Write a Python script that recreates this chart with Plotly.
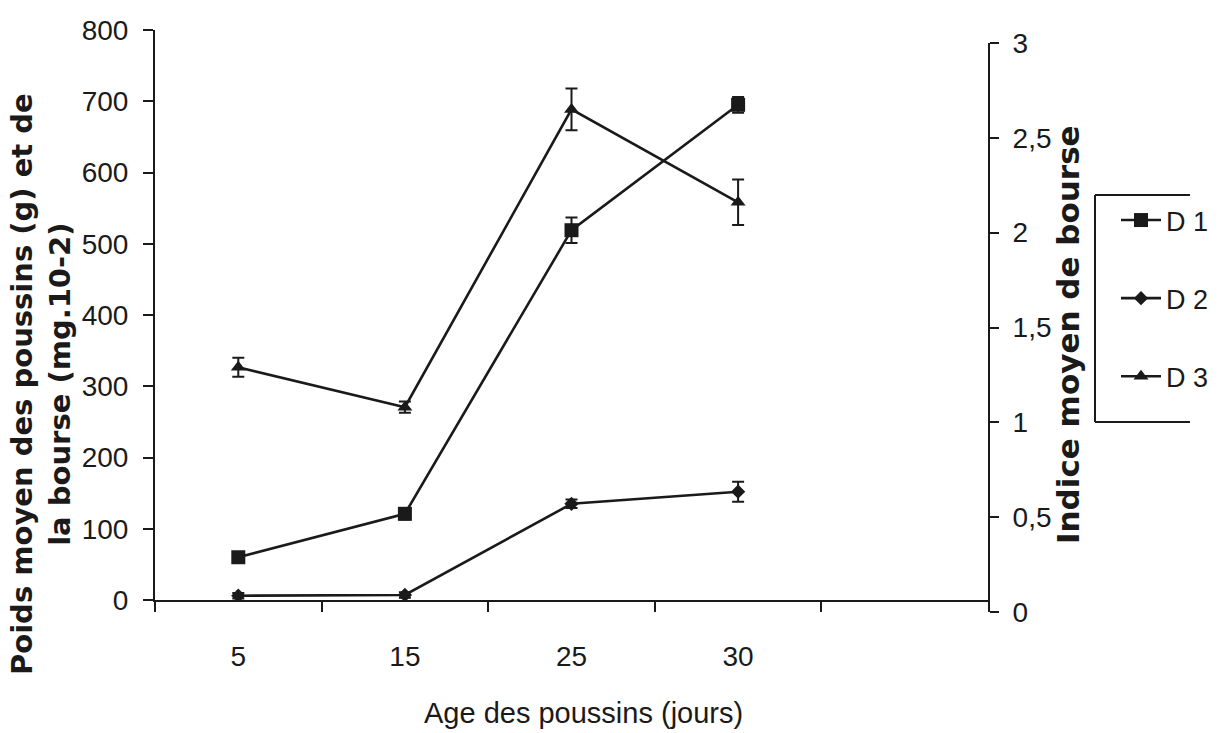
import plotly.graph_objects as go

# ---- data ----
ages = ["5", "15", "25", "30"]
d1_values = [60, 121, 519, 695]      # left axis
d1_errors = [6, 8, 18, 11]
d2_values = [6, 7, 135, 152]         # left axis
d2_errors = [4, 4, 6, 14]
d3_values = [1.29, 1.08, 2.65, 2.16] # right axis (index)
d3_errors = [0.05, 0.03, 0.11, 0.12]

left_ticks = [0, 100, 200, 300, 400, 500, 600, 700, 800]
right_ticks = [0, 0.5, 1, 1.5, 2, 2.5, 3]
x_boundaries = [0.5, 1.5, 2.5, 3.5]

NARROW = "Liberation Sans Narrow, Arial Narrow, Liberation Sans, Arial, sans-serif"
BOLD = "DejaVu Sans, Liberation Sans, Arial, sans-serif"
INK = "#1a1a1a"

fig = go.Figure()

def err(vals):
    return dict(type="data", array=vals, visible=True, color=INK, thickness=2, width=6)

fig.add_trace(go.Scatter(
    x=ages, y=d1_values, name="D 1", mode="lines+markers",
    line=dict(color=INK, width=2.6),
    marker=dict(symbol="square", size=14, color=INK),
    error_y=err(d1_errors), xaxis="x", yaxis="y", legendgroup="g1"))
fig.add_trace(go.Scatter(
    x=ages, y=d2_values, name="D 2", mode="lines+markers",
    line=dict(color=INK, width=2.6),
    marker=dict(symbol="diamond", size=11, color=INK),
    error_y=err(d2_errors), xaxis="x", yaxis="y", legendgroup="g2"))
fig.add_trace(go.Scatter(
    x=ages, y=d3_values, name="D 3", mode="lines+markers",
    line=dict(color=INK, width=2.6),
    marker=dict(symbol="triangle-up", size=13, color=INK),
    error_y=err(d3_errors), xaxis="x", yaxis="y2", legendgroup="g3"))

W, H = 1227, 733
L, R, T, B = 155, 239, 30, 121
pw = W - L - R
ph = H - T - B

def px(xp):
    return (xp - L) / pw

def py(yp):
    return (H - B - yp) / ph

tickfont = dict(family=NARROW, size=28, color=INK)

fig.update_layout(
    width=W, height=H,
    margin=dict(l=L, r=R, t=T, b=B),
    paper_bgcolor="white", plot_bgcolor="rgba(0,0,0,0)",
    separators=", ",
    showlegend=True,
    legend=dict(
        x=px(1116), y=py(196), xanchor="left", yanchor="top",
        font=dict(family=NARROW, size=27, color=INK),
        tracegroupgap=40, borderwidth=0, bgcolor="rgba(0,0,0,0)",
        itemwidth=40,
    ),
    xaxis=dict(
        type="category", categoryarray=ages, range=[-0.5, 4.5],
        domain=[0, 1], anchor="y",
        showline=True, linecolor=INK, linewidth=2,
        ticks="outside", tickson="boundaries", ticklen=10, tickwidth=2, tickcolor=INK,
        tickfont=tickfont, ticklabelstandoff=30,
        showgrid=False, zeroline=False,
    ),
    # inner half of the crossing x ticks
    xaxis2=dict(
        overlaying="x", anchor="y", range=[-0.5, 4.5], tickvals=x_boundaries,
        ticks="inside", ticklen=9, tickwidth=2, tickcolor=INK,
        showticklabels=False, showline=False, showgrid=False, zeroline=False,
    ),
    yaxis=dict(
        range=[0, 800], tickvals=left_ticks, domain=[py(600), py(30)],
        anchor="x", side="left",
        showline=True, linecolor=INK, linewidth=2,
        ticks="outside", ticklen=10, tickwidth=2, tickcolor=INK,
        tickfont=tickfont, ticklabelstandoff=9,
        showgrid=False, zeroline=False,
    ),
    yaxis3=dict(
        overlaying="y", anchor="x", side="left", range=[0, 800], tickvals=left_ticks,
        ticks="inside", ticklen=8, tickwidth=2, tickcolor=INK,
        showticklabels=False, showline=False, showgrid=False, zeroline=False,
    ),
    yaxis2=dict(
        range=[0, 3], tickvals=right_ticks, domain=[py(612), py(43)],
        anchor="x", side="right",
        showline=True, linecolor=INK, linewidth=2,
        ticks="outside", ticklen=9, tickwidth=2, tickcolor=INK,
        tickfont=tickfont, ticklabelstandoff=8,
        showgrid=False, zeroline=False,
    ),
    yaxis4=dict(
        overlaying="y2", anchor="x", side="right", range=[0, 3], tickvals=right_ticks,
        ticks="inside", ticklen=9, tickwidth=2, tickcolor=INK,
        showticklabels=False, showline=False, showgrid=False, zeroline=False,
    ),
)

annotations = [
    dict(text="<b>Poids moyen des poussins (g) et de<br>la bourse (mg.10-2)</b>",
         x=px(41), y=py(384), xref="paper", yref="paper",
         xanchor="center", yanchor="middle", textangle=-90, showarrow=False,
         font=dict(family=BOLD, size=29, color=INK)),
    dict(text="<b>Indice moyen de bourse</b>",
         x=px(1068), y=py(335), xref="paper", yref="paper",
         xanchor="center", yanchor="middle", textangle=-90, showarrow=False,
         font=dict(family=BOLD, size=31, color=INK)),
    dict(text="Age des poussins (jours)",
         x=px(583), y=py(713), xref="paper", yref="paper",
         xanchor="center", yanchor="middle", showarrow=False,
         font=dict(family=NARROW, size=29, color=INK)),
]
fig.update_layout(annotations=annotations)

# open legend frame (top, left, bottom)
lx0, lx1, ly0, ly1 = px(1095), px(1190), py(422), py(195)
shapes = [
    dict(type="line", xref="paper", yref="paper", x0=lx0, x1=lx1, y0=ly1, y1=ly1,
         line=dict(color=INK, width=2)),
    dict(type="line", xref="paper", yref="paper", x0=lx0, x1=lx0, y0=ly0, y1=ly1,
         line=dict(color=INK, width=2)),
    dict(type="line", xref="paper", yref="paper", x0=lx0, x1=lx1, y0=ly0, y1=ly0,
         line=dict(color=INK, width=2)),
]
fig.update_layout(shapes=shapes)

fig.write_html("out.html")
